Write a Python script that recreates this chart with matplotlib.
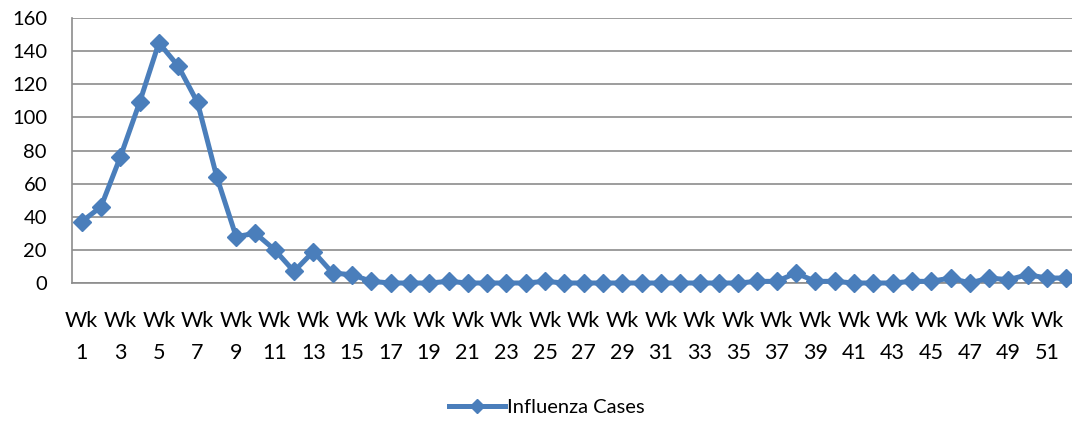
import matplotlib.pyplot as plt

# weekly influenza counts
weeks = ["Wk %d" % i for i in range(1, 53)]
cases = [37, 46, 76, 109, 145, 131, 109, 64, 28, 30,
         20, 7, 19, 6, 5, 1, 0, 0, 0, 1,
         0, 0, 0, 0, 1, 0, 0, 0, 0, 0,
         0, 0, 0, 0, 0, 1, 1, 6, 1, 1,
         0, 0, 0, 1, 1, 3, 0, 3, 2, 5,
         3, 3]
y_ticks = [0, 20, 40, 60, 80, 100, 120, 140, 160]

plt.rcParams['font.family'] = ['Lato', 'DejaVu Sans']

fig = plt.figure(figsize=(10.72, 4.22), dpi=100, facecolor='white')
W, H = 1072.0, 422.0
ax = fig.add_axes([72 / W, (H - 283) / H, (1076 - 72) / W, (283 - 18) / H])

x = list(range(1, len(weeks) + 1))
ax.plot(x, cases, color='#4A7EBB', lw=3.6, marker='D', ms=9.5,
        mec='#4A7EBB', mfc='#4A7EBB', label='Influenza Cases', clip_on=False, zorder=3)

ax.set_xlim(0.5, len(weeks) + 0.5)
ax.set_ylim(0, 160)
ax.set_yticks(y_ticks)
ax.set_yticklabels([str(v) for v in y_ticks], fontsize=14.5)
ax.set_xticks(x[::2])
ax.set_xticklabels([w.replace(' ', '\n') for w in weeks[::2]], fontsize=15.5, linespacing=1.75)
ax.tick_params(axis='y', length=0, pad=18)
ax.tick_params(axis='x', length=0, pad=20)

ax.grid(axis='y', color='#8C8C8C', lw=1.2)
ax.set_axisbelow(True)
for s in ['top', 'right']:
    ax.spines[s].set_visible(False)
for s in ['left', 'bottom']:
    ax.spines[s].set_color('#8C8C8C')
    ax.spines[s].set_linewidth(1.2)

fig.legend(loc='center', bbox_to_anchor=(0.51, 0.035), frameon=False,
           fontsize=14.5, handlelength=2.8, handletextpad=0.1, markerscale=0.8)

fig.savefig('out.png', dpi=100)
